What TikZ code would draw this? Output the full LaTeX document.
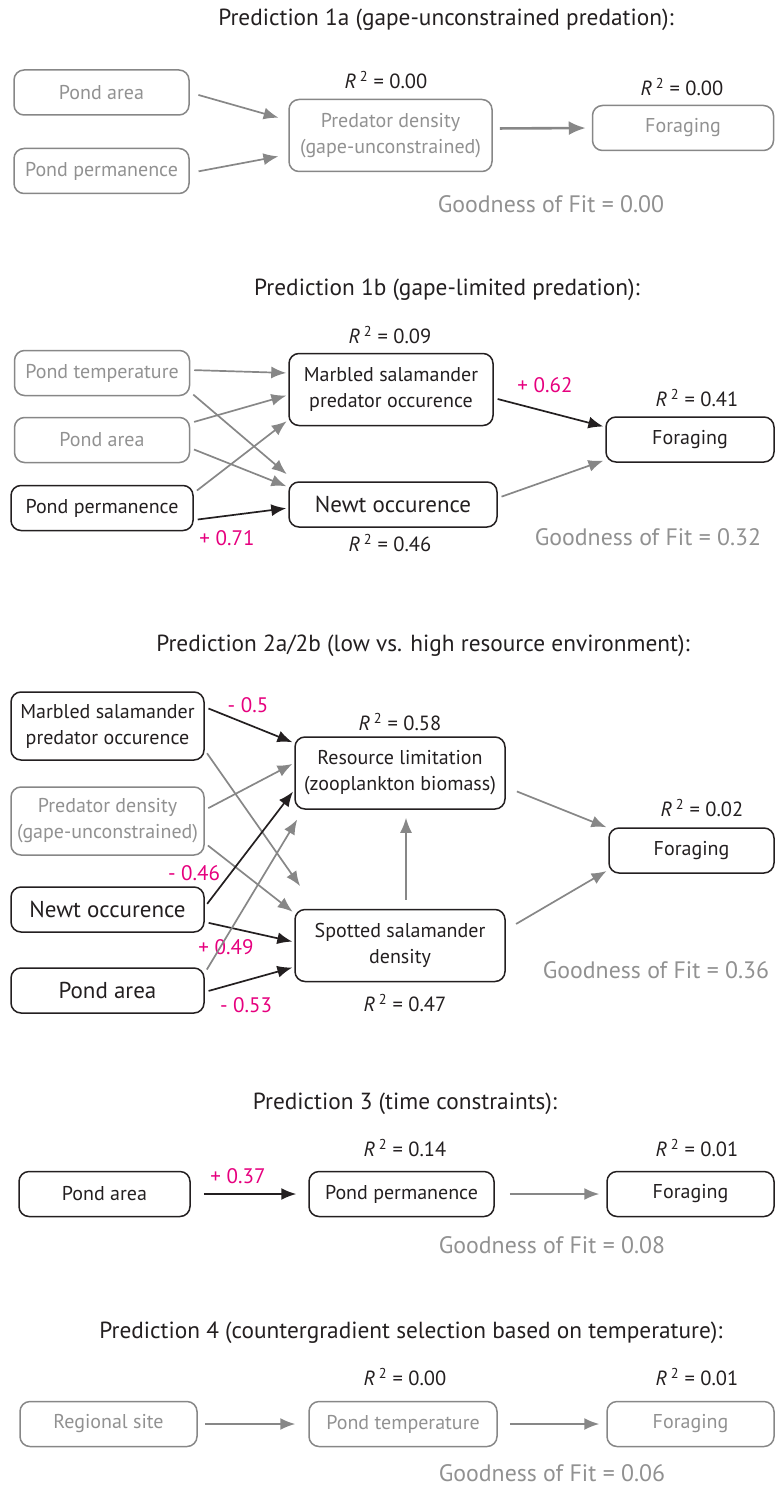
\documentclass[tikz,border=0pt]{standalone}
\usepackage{fontspec}
\setmainfont{PT Sans}
\usetikzlibrary{arrows.meta}
\definecolor{blk}{RGB}{35,31,32}
\definecolor{gr}{RGB}{135,135,135}
\definecolor{grtxt}{RGB}{145,145,145}
\definecolor{mag}{RGB}{230,0,126}
\newcommand{\rsq}[1]{\textit{R}\,\textsuperscript{2} = #1}

\begin{document}
\begin{tikzpicture}[x=1pt,y=-1pt]
    \tikzstyle{every node}=[font=\fontsize{20}{26}\selectfont, align=center, text=blk]
    \tikzset{
        n/.style={draw=blk, line width=1.5pt, rounded corners=10pt, minimum height=45pt, minimum width=175pt, inner sep=1pt},
        n2/.style={n, minimum width=204pt, minimum height=72pt},
        g/.style={draw=gr, text=grtxt},
        big/.style={font=\fontsize{23}{26}\selectfont},
        a/.style={draw=blk, line width=1.7pt, -{Latex[length=15pt,width=12pt]}, shorten <=4pt, shorten >=2pt},
        ga/.style={a, draw=gr},
        r2/.style={font=\fontsize{20.5}{22}\selectfont},
        gof/.style={font=\fontsize{23.8}{26}\selectfont, text=grtxt},
        coef/.style={font=\fontsize{21}{24}\selectfont, text=mag},
        title/.style={font=\fontsize{23.3}{26}\selectfont}
        }
    \useasboundingbox (0,0) rectangle (775,1487);

    %prediction 1a
    \node (t1) [title] at (446,20) {Prediction 1a (gape-unconstrained predation):};
    \node (pa1) [n, g] at (101.5,92.5) {Pond area};
    \node (pp1) [n, g] at (101.5,171) {Pond permanence};
    \node (pd1) [n2, g, minimum width=203pt] at (390.5,135.5) {Predator density\\(gape-unconstrained)};
    \node (fo1) [n, g, minimum width=181pt] at (683,128) {Foraging};
    \node (r2pd1) [r2] at (386,80) {\rsq{0.00}};
    \node (r2fo1) [r2] at (682,87) {\rsq{0.00}};
    \node (gof1) [gof] at (551,204) {Goodness of Fit = 0.00};

    \draw [ga, shorten <=9pt, shorten >=10pt] (pa1.east) -- ([yshift=15pt]pd1.west);
    \draw [ga, shorten <=9pt, shorten >=10pt] ([yshift=-2pt]pp1.east) -- ([yshift=-19pt]pd1.west);
    \draw [ga, line width=2.6pt, shorten <=7pt, shorten >=6pt, -{Latex[length=17pt,width=14pt]}] ([yshift=7pt]pd1.east) -- (fo1.west);

    %prediction 1b
    \node (t2) [title] at (447,290) {Prediction 1b (gape-limited predation):};
    \node (pt2) [n, g] at (102,373) {Pond temperature};
    \node (pa2) [n, g] at (102,440) {Pond area};
    \node (pp2) [n, minimum width=182pt] at (102,508) {Pond permanence};
    \node (ms2) [n2] at (391,389.5) {Marbled salamander\\predator occurence};
    \node (nw2) [n2, big, minimum height=45pt, minimum width=208pt] at (393,504.5) {Newt occurence};
    \node (fo2) [n, minimum width=168pt] at (690,439.5) {Foraging};
    \node (r2ms2) [r2] at (390,335) {\rsq{0.09}};
    \node (r2fo2) [r2] at (697,398) {\rsq{0.41}};
    \node (r2nw2) [r2] at (390,543) {\rsq{0.46}};
    \node (c1) [coef] at (545,385) {+ 0.62};
    \node (c2) [coef] at (227,538) {+ 0.71};
    \node (gof2) [gof] at (648,537) {Goodness of Fit = 0.32};

    \draw [ga] ([yshift=3pt]pt2.east) -- ([yshift=16.5pt]ms2.west);
    \draw [ga] ([yshift=-19pt]pt2.east) -- ([yshift=29pt]nw2.west);
    \draw [ga] ([yshift=17pt]pa2.east) -- ([yshift=-5.5pt]ms2.west);
    \draw [ga] ([yshift=-8pt]pa2.east) -- ([yshift=17.5pt]nw2.west);
    \draw [ga] ([yshift=15pt]pp2.east) -- ([yshift=-30.5pt]ms2.west);
    \draw [a] ([yshift=-12pt]pp2.east) -- ([yshift=-3.5pt]nw2.west);
    \draw [a] ([yshift=-8.5pt]ms2.east) -- ([yshift=12.5pt]fo2.west);
    \draw [ga] ([yshift=6.5pt]nw2.east) -- ([yshift=-20.5pt]fo2.west);

    %prediction 2a/2b
    \node (t3) [title] at (423,646) {Prediction 2a/2b (low vs. high resource environment):};
    \node (ms3) [n2, minimum width=193pt, minimum height=68pt] at (107.5,726) {Marbled salamander\\predator occurence};
    \node (pd3) [n2, g, minimum width=193pt, minimum height=68pt] at (107.5,821) {Predator density\\(gape-unconstrained)};
    \node (nw3) [n, big, minimum width=193pt] at (107.5,909.5) {Newt occurence};
    \node (pa3) [n, big, minimum width=193pt] at (107.5,990.5) {Pond area};
    \node (rl3) [n2, minimum width=210pt] at (400,773) {Resource limitation\\(zooplankton biomass)};
    \node (sp3) [n2, minimum width=210pt] at (400,945.5) {Spotted salamander\\density};
    \node (fo3) [n, minimum width=165pt] at (691.5,850.5) {Foraging};
    \node (r2rl3) [r2] at (400,722) {\rsq{0.58}};
    \node (r2fo3) [r2] at (702,808) {\rsq{0.02}};
    \node (r2sp3) [r2] at (405,1003) {\rsq{0.47}};
    \node (c3) [coef] at (248,705) {- 0.5};
    \node (c4) [coef] at (194,873) {- 0.46};
    \node (c5) [coef] at (226,947) {+ 0.49};
    \node (c6) [coef] at (246,1005) {- 0.53};
    \node (gof3) [gof] at (656,970) {Goodness of Fit = 0.36};

    \draw [a] ([yshift=19pt]ms3.east) -- ([yshift=30pt]rl3.west);
    \draw [ga] ([yshift=-24pt]ms3.east) -- ([xshift=7pt,yshift=21pt]sp3.north west);
    \draw [ga] ([yshift=11pt]pd3.east) -- ([yshift=10pt]rl3.west);
    \draw [ga] ([yshift=-22pt]pd3.east) -- ([yshift=32.5pt]sp3.west);
    \draw [a] ([yshift=2.5pt]nw3.east) -- ([yshift=-17pt]rl3.west);
    \draw [a] ([yshift=-12.5pt]nw3.east) -- ([yshift=3.5pt]sp3.west);
    \draw [ga] ([yshift=17.5pt]pa3.east) -- ([xshift=4pt,yshift=-8pt]rl3.south west);
    \draw [a] ([yshift=-1.5pt]pa3.east) -- ([yshift=-21.5pt]sp3.west);
    \draw [ga, shorten <=9pt, shorten >=8pt] ([xshift=6pt]sp3.north) -- ([xshift=6pt]rl3.south);
    \draw [ga, shorten <=12pt] ([yshift=-14pt]rl3.east) -- ([yshift=22.5pt]fo3.west);
    \draw [ga, shorten <=12pt] ([yshift=15.5pt]sp3.east) -- ([yshift=-19.5pt]fo3.west);

    %prediction 3
    \node (t4) [title] at (405,1104) {Prediction 3 (time constraints):};
    \node (pa4) [n, minimum width=171pt] at (104.5,1194) {Pond area};
    \node (pp4) [n, minimum width=185pt] at (401.5,1194) {Pond permanence};
    \node (fo4) [n, minimum width=167pt] at (690.5,1194) {Foraging};
    \node (r2pp4) [r2] at (405,1148) {\rsq{0.14}};
    \node (r2fo4) [r2] at (697,1148) {\rsq{0.01}};
    \node (c7) [coef] at (238,1176) {+ 0.37};
    \node (gof4) [gof] at (552,1245) {Goodness of Fit = 0.08};

    \draw [a, shorten <=13pt, shorten >=12pt] (pa4.east) -- (pp4.west);
    \draw [ga, shorten <=15pt, shorten >=7pt] (pp4.east) -- (fo4.west);

    %prediction 4
    \node (t5) [title] at (411,1333) {Prediction 4 (countergradient selection based on temperature):};
    \node (rs5) [n, g, minimum width=177pt] at (108.5,1424) {Regional site};
    \node (pt5) [n, g, minimum width=188pt] at (403,1424) {Pond temperature};
    \node (fo5) [n, g, minimum width=167pt] at (690.5,1424) {Foraging};
    \node (r2pt5) [r2] at (405,1377) {\rsq{0.00}};
    \node (r2fo5) [r2] at (697,1377) {\rsq{0.01}};
    \node (gof5) [gof] at (552,1473) {Goodness of Fit = 0.06};

    \draw [ga, shorten <=7pt, shorten >=13pt] (rs5.east) -- (pt5.west);
    \draw [ga, shorten <=12pt, shorten >=7pt] (pt5.east) -- (fo5.west);
\end{tikzpicture}
\end{document}
